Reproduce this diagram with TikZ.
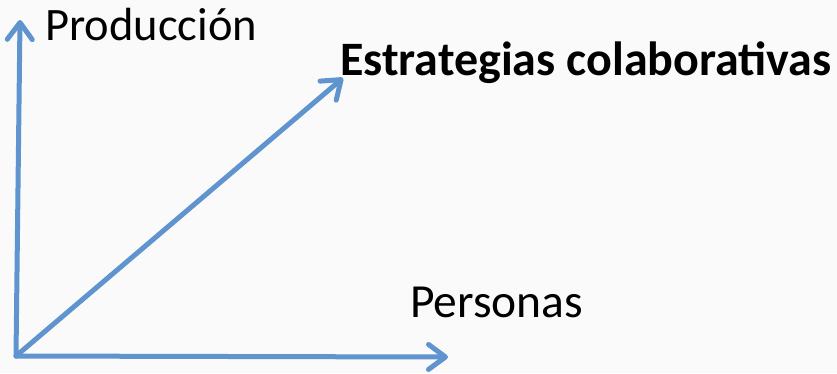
\documentclass[tikz,border=0pt]{standalone}
\usepackage{fontspec}
\setmainfont{Carlito}
\usetikzlibrary{arrows.meta}
\definecolor{ejeazul}{RGB}{96,148,206}
\definecolor{fondo}{RGB}{250,250,250}
\tikzset{
  eje/.style={draw=ejeazul,line width=5pt,line cap=round,line join=round,
    -{Straight Barb[round,length=17pt,width=25pt]}},
  rotulo/.style={anchor=base west,inner sep=0pt,font=\fontsize{46.5}{50}\selectfont}
}
\begin{document}
\begin{tikzpicture}[x=1pt,y=-1pt]
 \fill[fondo](0,0) rectangle (837,373);
 \useasboundingbox (0,0) rectangle (837,373);
 % ejes
 \coordinate (o) at (16,356);
 \coordinate (prod) at (20,20);
 \coordinate (pers) at (448,357);
 \coordinate (estr) at (343,78);
 \draw[eje](o)--(prod);
 \draw[eje](o)--(pers);
 \draw[eje](o)--(estr);
 % rotulos
 \node[rotulo] (tprod) at (45,40) {Producción};
 \node[rotulo,font=\fontsize{47.5}{50}\selectfont] (tpers) at (410,317) {Personas};
 \node[rotulo,font=\fontsize{48}{52}\selectfont\bfseries] (testr) at (340,75) {Estrategias colaborativas};
\end{tikzpicture}
\end{document}
